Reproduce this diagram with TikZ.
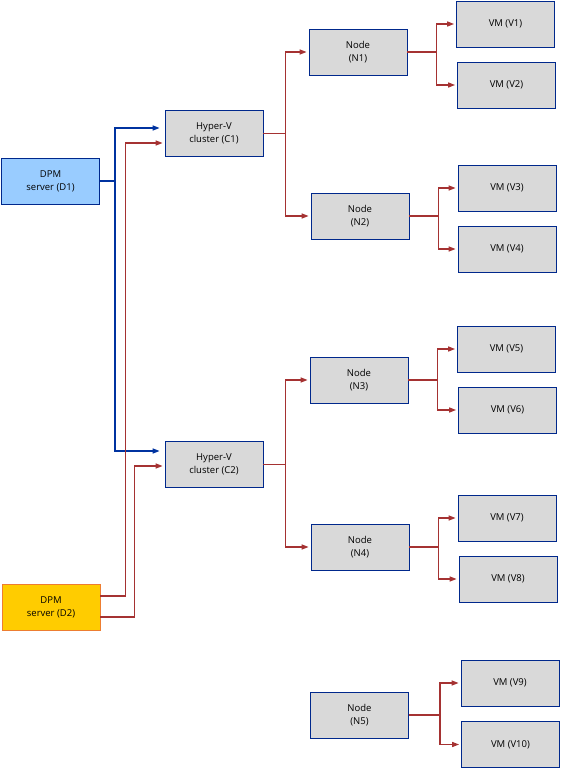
\documentclass[tikz,border=0pt]{standalone}
\usepackage{fontspec}
\setmainfont{Open Sans}
\usetikzlibrary{arrows.meta}
\definecolor{boxgray}{RGB}{217,217,217}
\definecolor{boxblue}{RGB}{0,40,140}
\definecolor{srvblue}{RGB}{153,204,255}
\definecolor{srvgold}{RGB}{255,204,0}
\definecolor{srvorange}{RGB}{237,125,49}
\definecolor{linered}{RGB}{165,50,50}
\definecolor{lineblue}{RGB}{0,51,160}

\begin{document}
\begin{tikzpicture}[x=1pt,y=-1pt,
    box/.style={draw=boxblue,fill=boxgray,line width=0.8pt,minimum width=98pt,minimum height=46pt,inner sep=0pt,align=center,font=\fontsize{9.5}{13}\selectfont},
    redarrow/.style={draw=linered,line width=1.4pt,shorten >=2pt,-{Triangle[length=7pt,width=5pt]}},
    bluearrow/.style={draw=lineblue,line width=1.4pt,shorten >=5pt,-{Triangle[length=7pt,width=5pt]}}]
    \useasboundingbox (0,0) rectangle (561,769);

    \node (D1) [box,fill=srvblue] at (50.5,181) {DPM\\server (D1)};
    \node (D2) [box,fill=srvgold,draw=srvorange] at (51,607.5) {DPM\\server (D2)};
    \node (C1) [box] at (214,133.5) {Hyper-V\\cluster (C1)};
    \node (C2) [box] at (214,464.5) {Hyper-V\\cluster (C2)};
    \node (N1) [box] at (358,52) {Node\\(N1)};
    \node (N2) [box] at (360,216) {Node\\(N2)};
    \node (N3) [box] at (359,380) {Node\\(N3)};
    \node (N4) [box] at (360,547) {Node\\(N4)};
    \node (N5) [box] at (359.5,715) {Node\\(N5)};
    \node (V1) [box] at (505.5,24) {VM (V1)};
    \node (V2) [box] at (506.5,85) {VM (V2)};
    \node (V3) [box] at (507,188) {VM (V3)};
    \node (V4) [box] at (507,249) {VM (V4)};
    \node (V5) [box] at (506.5,349) {VM (V5)};
    \node (V6) [box] at (507.5,410) {VM (V6)};
    \node (V7) [box] at (507,518) {VM (V7)};
    \node (V8) [box] at (508,579) {VM (V8)};
    \node (V9) [box] at (510,683) {VM (V9)};
    \node (V10) [box] at (510.5,744.5) {VM (V10)};

    \draw [bluearrow] (D1.east) -- ++(15,0) |- ([yshift=5.5pt]C1.west);
    \draw [bluearrow] (D1.east) -- ++(15,0) |- ([yshift=13.5pt]C2.west);
    \draw [redarrow] ([yshift=11.5pt]D2.east) -- ++(25,0) |- ([yshift=-9.5pt]C1.west);
    \draw [redarrow] ([yshift=-9.5pt]D2.east) -- ++(34,0) |- ([yshift=-1.5pt]C2.west);

    \draw [redarrow] (C1.east) -- ++(22,0) |- (N1.west);
    \draw [redarrow] (C1.east) -- ++(22,0) |- (N2.west);
    \draw [redarrow] (C2.east) -- ++(22,0) |- (N3.west);
    \draw [redarrow] (C2.east) -- ++(22,0) |- (N4.west);

    \draw [redarrow] (N1.east) -- ++(29,0) |- (V1.west);
    \draw [redarrow] (N1.east) -- ++(29,0) |- (V2.west);
    \draw [redarrow] (N2.east) -- ++(29,0) |- (V3.west);
    \draw [redarrow] (N2.east) -- ++(29,0) |- (V4.west);
    \draw [redarrow] (N3.east) -- ++(29,0) |- (V5.west);
    \draw [redarrow] (N3.east) -- ++(29,0) |- (V6.west);
    \draw [redarrow] (N4.east) -- ++(29,0) |- (V7.west);
    \draw [redarrow] (N4.east) -- ++(29,0) |- (V8.west);
    \draw [redarrow] (N5.east) -- ++(31,0) |- (V9.west);
    \draw [redarrow] (N5.east) -- ++(31,0) |- (V10.west);
\end{tikzpicture}
\end{document}
